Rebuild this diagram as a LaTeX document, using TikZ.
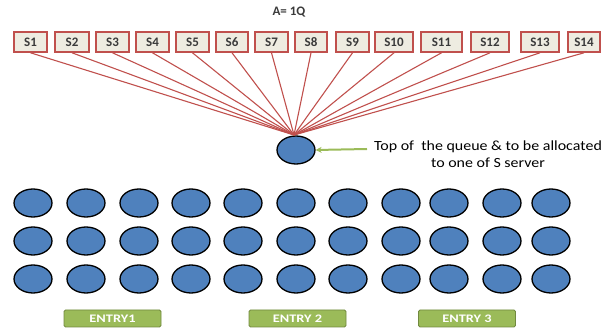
\documentclass[tikz,border=0pt]{standalone}
\usepackage{fontspec}
\setmainfont{Carlito}
\usetikzlibrary{arrows.meta,shapes.geometric}
\definecolor{boxred}{HTML}{C0504D}
\definecolor{boxfill}{HTML}{EEECE1}
\definecolor{ballblue}{HTML}{4F81BD}
\definecolor{entrygreen}{HTML}{9BBB59}
\definecolor{entryedge}{HTML}{71893F}
\definecolor{textgray}{HTML}{3A3A3A}
\tikzset{
  srv/.style={draw=boxred, line width=1.6pt, fill=boxfill, minimum height=20pt, minimum width=32pt,
    inner sep=2pt, font=\bfseries\fontsize{13}{13}\selectfont, text=textgray},
  ball/.style={ellipse, draw=black, line width=1.3pt, fill=ballblue, minimum width=38pt, minimum height=28pt, inner sep=0pt},
  entry/.style={draw=entryedge, line width=0.8pt, fill=entrygreen, rounded corners=1.5pt, minimum width=97pt,
    minimum height=17pt, inner sep=0pt, text=white},
  entrytext/.style={text=white, font=\bfseries\fontsize{11.5}{11.5}\selectfont, xscale=1.25, inner sep=0pt},
  link/.style={draw=boxred, line width=1.1pt},
  note/.style={font=\fontsize{14}{16}\selectfont, text=black, align=center, inner sep=0pt, xscale=1.14}
}
\begin{document}
\begin{tikzpicture}[x=1pt,y=-1pt]
\useasboundingbox (0,0) rectangle (602,328);
\node[font=\bfseries\fontsize{13}{13}\selectfont, text=textgray] (title) at (289,12) {A= 1Q};
% server boxes
\foreach \i/\l/\r in {1/14/47,2/55/89,3/96/129,4/136/169,5/176/209,6/216/248,7/255/288,8/295/327,9/336/369,10/375/413,11/421/462,12/471/509,13/521/559,14/568/600}{
  \pgfmathsetmacro{\cx}{(\l+\r)/2}
  \pgfmathsetmacro{\w}{\r-\l}
  \node[srv, minimum width=\w pt] (s\i) at (\cx,42) {S\i};
}
% top ball
\node[ball] (top) at (296,150) {};
\coordinate (hub) at (294,135);
\foreach \i in {1,...,14}{
  \draw[link] (s\i.south) -- (hub);
}
% note and arrow
\node[note] (n1) at (488,147) {Top of \ the queue \& to be allocated};
\node[note] (n2) at (488,163) {to one of S server};
\coordinate (arrowstart) at (367,149);
\draw[draw=entrygreen, line width=2pt, -{Stealth[length=6pt,width=6pt]}] (arrowstart) -- (top.east);
% ball grid
\foreach \r/\y in {1/203,2/241,3/279}{
  \foreach \c/\x in {1/33,2/86,3/139,4/191,5/243,6/296,7/348,8/401,9/449,10/502,11/551}{
    \node[ball] (b\r-\c) at (\x,\y) {};
  }
}
% entries
\node[entry] (e1) at (112.5,318.5) {};
\node[entry] (e2) at (297.5,318.5) {};
\node[entry] (e3) at (467,318.5) {};
\node[entrytext] (t1) at (e1) {ENTRY1};
\node[entrytext] (t2) at (e2) {ENTRY 2};
\node[entrytext] (t3) at (e3) {ENTRY 3};
\end{tikzpicture}
\end{document}
